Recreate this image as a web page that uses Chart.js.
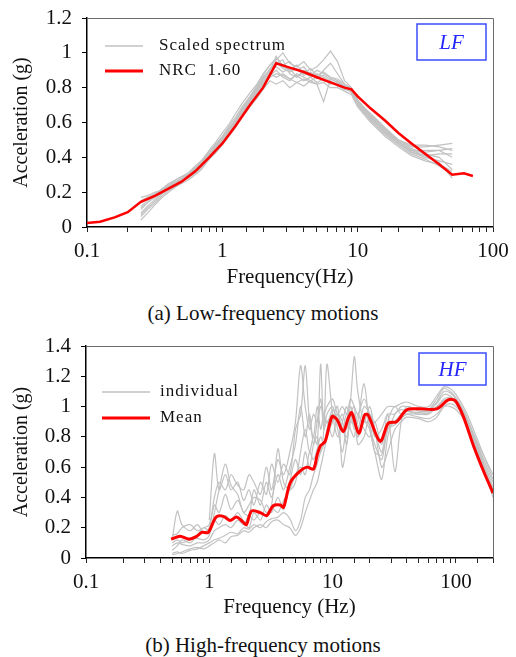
<!DOCTYPE html>
<html lang="en">
<head>
<meta charset="utf-8">
<title>Scaled spectra</title>
<script src="https://cdn.jsdelivr.net/npm/chart.js@4.4.0/dist/chart.umd.min.js"></script>
<style>
    body { margin: 0; background: #fff; width: 516px; height: 657px; position: relative; overflow: hidden; }
    .box { position: absolute; left: 0; width: 516px; height: 295px; }
    #box1 { top: 0; }
    #box2 { top: 330px; }
    .cap { position: absolute; left: 5px; width: 516px; text-align: center; font: 21px 'Liberation Serif', 'Times New Roman', serif; color: #111; line-height: 26px; }
    #cap1 { top: 300px; }
    #cap2 { top: 632px; }
</style>
<script>
    // ---- (a) low-frequency motions ----
    var lfFreq = [0.25, 0.28, 0.32, 0.36, 0.4, 0.45, 0.5, 0.56, 0.63, 0.7, 0.8, 0.9, 1.0, 1.12, 1.25, 1.4, 1.6, 1.8, 2.0, 2.25,
        2.5, 2.8, 3.15, 3.55, 4.0, 4.5, 5.0, 5.6, 6.3, 7.1, 8.0, 9.0, 10, 12.5, 16, 20, 25, 31.5, 40, 50];
    var lfScaled = [
        [0.04, 0.08, 0.13, 0.17, 0.2, 0.23, 0.26, 0.28, 0.31, 0.35, 0.41, 0.45, 0.5, 0.55, 0.6, 0.66, 0.72, 0.78, 0.83, 0.88, 0.86, 0.88, 0.85, 0.87, 0.84, 0.86, 0.83, 0.85, 0.82, 0.84, 0.8, 0.79, 0.72, 0.65, 0.57, 0.5, 0.46, 0.46, 0.47, 0.48],
        [0.1, 0.14, 0.17, 0.21, 0.23, 0.25, 0.27, 0.3, 0.33, 0.36, 0.42, 0.46, 0.51, 0.56, 0.62, 0.68, 0.74, 0.8, 0.86, 0.9, 0.98, 0.92, 0.9, 0.93, 0.88, 0.91, 0.87, 0.89, 0.86, 0.84, 0.81, 0.78, 0.71, 0.63, 0.55, 0.49, 0.44, 0.43, 0.44, 0.45],
        [0.17, 0.18, 0.2, 0.21, 0.24, 0.26, 0.27, 0.29, 0.31, 0.34, 0.39, 0.43, 0.47, 0.52, 0.57, 0.63, 0.69, 0.74, 0.79, 0.84, 0.82, 0.84, 0.8, 0.83, 0.81, 0.84, 0.82, 0.72, 0.85, 0.83, 0.8, 0.78, 0.7, 0.62, 0.54, 0.48, 0.43, 0.4, 0.38, 0.36],
        [0.12, 0.15, 0.18, 0.22, 0.25, 0.27, 0.29, 0.3, 0.34, 0.37, 0.43, 0.47, 0.52, 0.58, 0.63, 0.69, 0.75, 0.81, 0.87, 0.93, 0.96, 1.0, 0.94, 0.92, 0.95, 0.9, 0.92, 0.96, 1.01, 0.95, 0.84, 0.8, 0.73, 0.64, 0.56, 0.5, 0.45, 0.42, 0.4, 0.33],
        [0.07, 0.11, 0.15, 0.19, 0.22, 0.24, 0.26, 0.29, 0.32, 0.35, 0.4, 0.44, 0.49, 0.54, 0.59, 0.65, 0.71, 0.77, 0.82, 0.87, 0.9, 0.86, 0.84, 0.88, 0.86, 0.84, 0.86, 0.84, 0.83, 0.82, 0.8, 0.77, 0.7, 0.61, 0.53, 0.47, 0.42, 0.39, 0.35, 0.3],
        [0.14, 0.16, 0.19, 0.22, 0.23, 0.26, 0.28, 0.31, 0.34, 0.38, 0.43, 0.48, 0.52, 0.57, 0.61, 0.66, 0.72, 0.79, 0.85, 0.91, 0.94, 0.96, 0.88, 0.86, 0.9, 0.88, 0.85, 0.9, 0.94, 0.88, 0.82, 0.8, 0.72, 0.63, 0.55, 0.49, 0.44, 0.41, 0.37, 0.28],
        [0.08, 0.12, 0.16, 0.2, 0.22, 0.25, 0.27, 0.29, 0.32, 0.36, 0.41, 0.46, 0.5, 0.55, 0.6, 0.67, 0.73, 0.78, 0.84, 0.89, 0.92, 0.89, 0.91, 0.86, 0.89, 0.86, 0.88, 0.86, 0.84, 0.81, 0.79, 0.78, 0.71, 0.62, 0.54, 0.48, 0.43, 0.41, 0.42, 0.42],
        [0.15, 0.17, 0.19, 0.22, 0.24, 0.27, 0.29, 0.31, 0.35, 0.38, 0.44, 0.49, 0.54, 0.59, 0.65, 0.71, 0.77, 0.82, 0.88, 0.93, 0.97, 0.93, 0.95, 0.9, 0.92, 0.87, 0.9, 0.88, 0.86, 0.85, 0.82, 0.79, 0.73, 0.64, 0.56, 0.5, 0.47, 0.47, 0.46, 0.44],
        [0.06, 0.1, 0.14, 0.18, 0.21, 0.23, 0.25, 0.27, 0.3, 0.33, 0.39, 0.43, 0.48, 0.53, 0.58, 0.64, 0.7, 0.76, 0.81, 0.86, 0.88, 0.87, 0.85, 0.83, 0.85, 0.83, 0.82, 0.83, 0.8, 0.8, 0.78, 0.76, 0.69, 0.6, 0.52, 0.46, 0.41, 0.38, 0.36, 0.32],
        [0.11, 0.14, 0.18, 0.2, 0.23, 0.25, 0.28, 0.3, 0.33, 0.37, 0.42, 0.47, 0.51, 0.56, 0.61, 0.67, 0.73, 0.8, 0.85, 0.9, 0.95, 0.91, 0.89, 0.91, 0.87, 0.89, 0.86, 0.87, 0.85, 0.83, 0.81, 0.79, 0.72, 0.63, 0.55, 0.49, 0.44, 0.44, 0.44, 0.4]
    ];
    // NRC 1.60 target spectrum
    var nrcFreq = [0.1, 0.125, 0.16, 0.2, 0.25, 0.32, 0.4, 0.5, 0.63, 0.8, 1.0, 1.25, 1.6, 2.0, 2.5, 3.15, 4.0, 5.0, 6.3, 8.0, 9.0,
        10, 12.5, 16, 20, 25, 31.5, 40, 50, 61, 71];
    var nrcAcc = [0.023, 0.03, 0.055, 0.085, 0.145, 0.18, 0.22, 0.26, 0.32, 0.4, 0.48, 0.58, 0.7, 0.8, 0.94, 0.915, 0.89, 0.86, 0.83, 0.8, 0.79,
        0.75, 0.68, 0.61, 0.54, 0.48, 0.42, 0.36, 0.3, 0.308, 0.293];

    // ---- (b) high-frequency motions ----
    var hfFreq = [0.5, 0.55, 0.6, 0.7, 0.8, 0.9, 1.0, 1.1, 1.2, 1.35, 1.5, 1.7, 1.9, 2.1, 2.3, 2.6, 2.9, 3.2, 3.6, 4.0,
        4.5, 5.0, 5.5, 6.0, 6.5, 7.0, 7.5, 8.0, 8.5, 9.0, 10, 11, 12, 13, 14, 15, 16, 18, 20, 22,
        25, 28, 32, 36, 40, 50, 60, 70, 80, 90, 100, 120, 150, 200];
    var hfIndividual = [
        [0.12, 0.31, 0.22, 0.18, 0.22, 0.17, 0.2, 0.35, 0.3, 0.42, 0.32, 0.38, 0.3, 0.28, 0.45, 0.35, 0.5, 0.4, 0.55, 0.45,
            0.6, 0.75, 1.0, 0.8, 0.95, 0.75, 0.9, 1.05, 0.85, 0.95, 1.0, 0.9, 0.95, 0.85, 1.0, 0.9, 0.85, 1.0, 0.95, 0.8,
            0.85, 0.95, 0.95, 1.0, 1.0, 0.98, 0.98, 1.02, 1.08, 1.07, 1.03, 0.9, 0.7, 0.45],
        [null, null, null, null, null, null, 0.25, 0.69, 0.45, 0.55, 0.45, 0.5, 0.38, 0.45, 0.35, 0.5, 0.42, 0.62, 0.5, 0.62,
            0.55, 0.85, 0.95, 1.27, 0.9, 0.8, 1.0, 0.85, 0.95, 0.9, 0.95, 0.85, 0.7, 0.9, 1.05, 1.33, 1.1, 0.9, 1.0, 0.85,
            0.7, 0.9, 1.0, 0.95, 0.97, 0.96, 0.98, 1.05, 1.12, 1.1, 1.06, 0.95, 0.75, 0.5],
        [0.03, 0.04, 0.03, 0.05, 0.06, 0.08, 0.1, 0.12, 0.13, 0.15, 0.17, 0.16, 0.2, 0.19, 0.22, 0.2, 0.24, 0.26, 0.27, 0.3,
            0.26, 0.18, 0.25, 0.4, 0.45, 0.55, 0.62, 0.7, 0.75, 0.8, 0.9, 0.95, 0.85, 0.8, 0.9, 0.95, 0.8, 0.9, 0.85, 0.75,
            0.65, 0.85, 0.9, 0.95, 0.95, 0.93, 0.92, 0.95, 1.0, 1.0, 0.98, 0.9, 0.72, 0.42],
        [0.1, 0.12, 0.1, 0.12, 0.13, 0.12, 0.15, 0.3, 0.45, 0.62, 0.48, 0.42, 0.3, 0.35, 0.4, 0.38, 0.3, 0.35, 0.72, 0.5,
            0.45, 0.5, 0.7, 0.85, 0.7, 0.8, 0.75, 1.28, 0.85, 0.9, 0.8, 0.95, 0.9, 0.75, 0.95, 0.85, 0.9, 1.15, 0.85, 0.7,
            0.52, 0.8, 0.95, 0.98, 0.97, 0.95, 0.95, 1.0, 1.05, 1.06, 1.04, 0.94, 0.74, 0.47],
        [0.05, 0.08, 0.12, 0.1, 0.15, 0.2, 0.18, 0.25, 0.22, 0.28, 0.25, 0.3, 0.24, 0.2, 0.3, 0.25, 0.35, 0.3, 0.4, 0.32,
            0.5, 0.65, 0.55, 0.7, 0.6, 0.75, 0.8, 0.7, 0.85, 1.28, 0.95, 0.8, 0.9, 1.0, 0.85, 0.8, 0.95, 0.85, 0.8, 0.9,
            0.75, 0.95, 0.57, 0.9, 1.0, 0.97, 0.97, 1.03, 1.1, 1.09, 1.05, 0.93, 0.73, 0.44],
        [0.02, 0.03, 0.04, 0.06, 0.07, 0.06, 0.08, 0.1, 0.12, 0.1, 0.14, 0.15, 0.18, 0.17, 0.2, 0.22, 0.2, 0.24, 0.25, 0.22,
            0.2, 0.15, 0.2, 0.3, 0.38, 0.45, 0.5, 0.6, 0.7, 0.8, 0.92, 1.0, 0.6, 0.75, 0.95, 1.0, 0.75, 0.8, 0.95, 0.85,
            0.6, 0.7, 0.85, 0.9, 0.93, 0.92, 0.9, 0.93, 1.0, 1.02, 1.0, 0.92, 0.76, 0.55],
        [0.15, 0.16, 0.2, 0.22, 0.18, 0.2, 0.22, 0.4, 0.5, 0.45, 0.55, 0.48, 0.45, 0.55, 0.5, 0.42, 0.6, 0.45, 0.65, 0.55,
            0.7, 0.9, 1.27, 1.0, 0.85, 0.95, 0.9, 1.0, 0.95, 1.0, 1.05, 0.95, 1.0, 0.95, 1.05, 1.0, 0.95, 1.05, 0.95, 0.9,
            0.95, 1.0, 1.0, 1.02, 1.03, 1.0, 1.0, 1.07, 1.13, 1.12, 1.08, 0.97, 0.78, 0.52],
        [0.08, 0.1, 0.09, 0.08, 0.1, 0.1, 0.12, 0.18, 0.2, 0.22, 0.2, 0.25, 0.22, 0.28, 0.25, 0.3, 0.28, 0.33, 0.3, 0.38,
            0.45, 0.55, 0.6, 0.55, 0.7, 0.65, 0.72, 0.8, 0.75, 0.85, 0.98, 0.9, 0.85, 0.95, 0.9, 0.88, 0.8, 0.9, 0.88, 0.7,
            0.68, 0.85, 0.88, 0.92, 0.95, 0.95, 0.96, 1.0, 1.04, 1.05, 1.02, 0.9, 0.7, 0.4]
    ];
    var meanFreq = [0.49, 0.58, 0.68, 0.79, 0.87, 0.98, 1.135, 1.3, 1.47, 1.67, 1.89, 2.0, 2.2, 2.59, 2.92, 3.3, 3.77, 4.0,
        4.52, 5.3, 6.2, 7.0, 7.5, 7.95, 8.7, 9.9, 10.8, 12.2, 13.4, 14.3, 16.3, 18.2, 19.4, 24.3, 28.3, 33.0, 39.9, 51, 70,
        86.8, 98.6, 115, 139.6, 168, 200];
    var meanAcc = [0.125, 0.143, 0.125, 0.143, 0.169, 0.169, 0.27, 0.275, 0.248, 0.27, 0.235, 0.22, 0.31, 0.3, 0.28, 0.345, 0.35, 0.334,
        0.495, 0.565, 0.6, 0.587, 0.68, 0.74, 0.77, 0.934, 0.917, 0.835, 0.923, 0.96, 0.824, 0.945, 0.945, 0.77, 0.89, 0.9, 0.978, 0.985, 0.985,
        1.044, 1.04, 0.934, 0.736, 0.571, 0.43];

    var lfLegend = ['Scaled spectrum', 'NRC  1.60'];
    var hfLegend = ['individual', 'Mean'];
    var lfTicksY = { max: 1.2, step: 0.2 };
    var hfTicksY = { max: 1.4, step: 0.2 };

    var SERIF = "'Liberation Serif', 'Times New Roman', serif";
    var GRAY = '#c2c2c2';
    var RED = '#ff0000';

    function pts(fr, vals) {
        var out = [];
        for (var i = 0; i < fr.length; i++) {
            if (vals[i] != null) out.push({ x: fr[i], y: vals[i] });
        }
        return out;
    }

    // legend, box tag and the top/right frame are drawn here
    var framePlugin = {
        id: 'frame',
        afterDraw: function (chart) {
            var o = chart.options.plugins.frame;
            var a = chart.chartArea, ctx = chart.ctx;
            ctx.save();
            ctx.strokeStyle = '#6a6a6a';
            ctx.lineWidth = 1;
            ctx.beginPath();
            ctx.moveTo(a.left, a.top + 0.5);
            ctx.lineTo(a.right + 0.5, a.top + 0.5);
            ctx.lineTo(a.right + 0.5, a.bottom);
            ctx.stroke();

            // legend
            var ds = chart.data.datasets;
            var entries = [ds[ds.length - 1], ds[0]];
            for (var i = 0; i < 2; i++) {
                var y = a.top + o.legY[i];
                ctx.strokeStyle = entries[i].borderColor;
                ctx.lineWidth = i == 0 ? 1.5 : 3;
                ctx.beginPath();
                ctx.moveTo(a.left + o.legX[0], y);
                ctx.lineTo(a.left + o.legX[1], y);
                ctx.stroke();
                ctx.fillStyle = '#111';
                ctx.font = '17px ' + SERIF;
                ctx.letterSpacing = '1px';
                ctx.textBaseline = 'middle';
                ctx.textAlign = 'left';
                ctx.fillText(o.legend[i], a.left + o.legX[2], y);
            }
            ctx.letterSpacing = '0px';

            // tag box (LF / HF)
            var bx = a.right - o.tag[0], by = a.top + o.tag[1];
            ctx.strokeStyle = '#3b4dff';
            ctx.lineWidth = 1.5;
            ctx.strokeRect(bx, by, o.tag[2], o.tag[3]);
            ctx.fillStyle = '#2626ff';
            ctx.font = 'italic 21px ' + SERIF;
            ctx.textAlign = 'center';
            ctx.fillText(o.tagText, bx + o.tag[2] / 2, by + o.tag[3] / 2 + 1);
            ctx.restore();
        }
    };

    function makeChart(id, spec) {
        var datasets = [{
            label: spec.legend[1],
            data: pts(spec.redX, spec.redY),
            borderColor: RED,
            borderWidth: spec.redWidth,
            pointRadius: 0,
            tension: spec.tension,
            order: 0
        }];
        for (var k = 0; k < spec.gray.length; k++) {
            datasets.push({
                label: spec.legend[0],
                data: pts(spec.grayX, spec.gray[k]),
                borderColor: GRAY,
                borderWidth: 1.2,
                pointRadius: 0,
                tension: spec.tension,
                order: 1
            });
        }
        var tickFont = { family: SERIF, size: 21 };
        return new Chart(document.getElementById(id), {
            type: 'line',
            data: { datasets: datasets },
            plugins: [framePlugin],
            options: {
                responsive: false,
                animation: false,
                events: [],
                layout: { padding: { left: 0, right: 23, top: spec.top, bottom: 0 } },
                plugins: {
                    legend: { display: false },
                    tooltip: { enabled: false },
                    frame: { legend: spec.legend, legX: spec.legX, legY: spec.legY, tag: spec.tag, tagText: spec.tagText }
                },
                scales: {
                    x: {
                        type: 'logarithmic',
                        min: 0.1,
                        max: spec.xMax,
                        ticks: {
                            autoSkip: false, maxRotation: 0, padding: 7, color: '#111', font: tickFont,
                            callback: function (v) {
                                var l = Math.log10(v);
                                return Math.abs(l - Math.round(l)) < 1e-6 ? String(v) : '';
                            }
                        },
                        grid: { drawOnChartArea: false, tickLength: 5, color: '#222' },
                        border: { color: '#000', width: 1.5 },
                        title: { display: true, text: spec.xTitle, color: '#111', font: tickFont, padding: { top: 0, bottom: 5 } },
                        afterFit: function (s) { s.height = spec.xH; s.paddingLeft = 0; s.paddingRight = 0; }
                    },
                    y: {
                        min: 0,
                        max: spec.yTicks.max,
                        ticks: {
                            stepSize: spec.yTicks.step, padding: 10, color: '#111', font: tickFont,
                            // 1 instead of 1.0, like the original
                            callback: function (v) { return String(Math.round(v * 10) / 10); }
                        },
                        grid: { drawOnChartArea: false, tickLength: 5, color: '#000' },
                        border: { color: '#000', width: 1.5 },
                        title: { display: true, text: 'Acceleration (g)', color: '#111', font: { family: SERIF, size: 20 }, padding: { top: 10, bottom: 0 } },
                        afterFit: function (s) { s.width = spec.yW; s.paddingTop = 0; s.paddingBottom = 0; }
                    }
                }
            }
        });
    }

    window.onload = function () {
        makeChart('c1', {
            redX: nrcFreq, redY: nrcAcc, grayX: lfFreq, gray: lfScaled, redWidth: 2.5, tension: 0,
            legend: lfLegend, legX: [18, 56, 72], legY: [28, 53],
            tag: [76, 6, 69, 36], tagText: 'LF',
            xMax: 100, xTitle: 'Frequency(Hz)', yTicks: lfTicksY, top: 18, xH: 68, yW: 87
        });
        makeChart('c2', {
            redX: meanFreq, redY: meanAcc, grayX: hfFreq, gray: hfIndividual, redWidth: 3, tension: 0.3,
            legend: hfLegend, legX: [16, 64, 74], legY: [46, 72],
            tag: [74, 7, 67, 32], tagText: 'HF',
            xMax: 200, xTitle: 'Frequency (Hz)', yTicks: hfTicksY, top: 16, xH: 67, yW: 86
        });
    };
</script>
</head>
<body>
    <div class="box" id="box1"><canvas id="c1" width="516" height="295"></canvas></div>
    <div class="cap" id="cap1">(a) Low-frequency motions</div>
    <div class="box" id="box2"><canvas id="c2" width="516" height="295"></canvas></div>
    <div class="cap" id="cap2">(b) High-frequency motions</div>
</body>
</html>
